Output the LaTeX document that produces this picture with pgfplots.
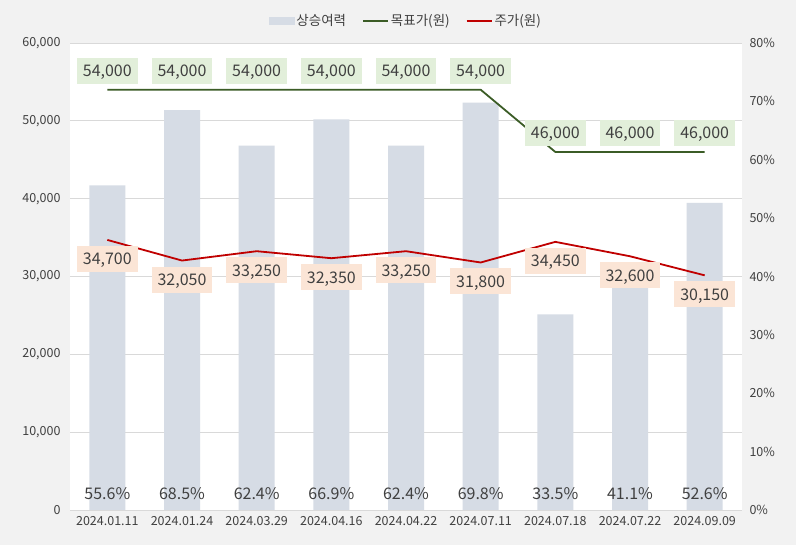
\documentclass[border=0pt]{standalone}
\usepackage{pgfplots}
\pgfplotsset{compat=1.18}
\usepackage{pgfplotstable}
\usepackage{fontspec}
\setmainfont{Noto Sans CJK KR}

\definecolor{bgc}{HTML}{F2F2F2}
\definecolor{barc}{HTML}{D6DCE5}
\definecolor{tgtc}{HTML}{3B5C26}
\definecolor{prc}{HTML}{C00000}
\definecolor{tgtbox}{HTML}{E2EFDA}
\definecolor{prbox}{HTML}{FBE5D6}
\definecolor{txt}{HTML}{404040}
\definecolor{gridc}{HTML}{D9D9D9}

% x upside(%) target price
\pgfplotstableread{
x upside target price
0 55.6 54000 34700
1 68.5 54000 32050
2 62.4 54000 33250
3 66.9 54000 32350
4 62.4 54000 33250
5 69.8 54000 31800
6 33.5 46000 34450
7 41.1 46000 32600
8 52.6 46000 30150
}\data

\tikzset{
  lbl/.style={font=\fontsize{16bp}{18bp}\selectfont, text=txt,
    inner xsep=6bp, inner ysep=7bp, text height=12bp, text depth=0bp, anchor=center},
}
\pgfplotsset{
  common/.style={
    scale only axis, width=672bp, height=467bp,
    xmin=-0.5, xmax=8.5, ymin=0,
    tick label style={font=\fontsize{12.5bp}{14bp}\selectfont, text=txt},
    major tick length=0pt,
    /pgf/number format/assume math mode=true,
    /pgf/number format/1000 sep={,},
  },
}

\begin{document}
\begin{tikzpicture}
\fill[bgc, use as bounding box] (-70bp,-35bp) rectangle (726bp,510bp);

% bars, right axis
\begin{axis}[common,
  ymax=80,
  axis background/.style={fill=white},
  axis y line*=right, axis x line*=bottom,
  y axis line style={draw=none},
  x axis line style={draw=gridc, line width=0.8bp},
  xtick={0,...,8},
  xticklabels={2024.01.11,2024.01.24,2024.03.29,2024.04.16,2024.04.22,2024.07.11,2024.07.18,2024.07.22,2024.09.09},
  xticklabel style={yshift=-3bp},
  ytick={0,10,...,80},
  yticklabel={\pgfmathprintnumber{\tick}\%},
  yticklabel style={xshift=4bp},
  extra y ticks={13.33333,26.66667,40,53.33333,66.66667,80},
  extra y tick labels={},
  extra y tick style={grid=major, major grid style={draw=gridc, line width=0.8bp}},
]
\addplot[ybar, bar width=36bp, fill=barc, draw=none, bar shift=0pt] table[x=x, y=upside] {\data};
\addplot[draw=none, mark=none,
  nodes near coords={\pgfmathprintnumber[fixed,precision=1,fixed zerofill]{\pgfplotspointmeta}\%},
  point meta=explicit,
  every node near coord/.style={lbl, inner sep=0pt}]
  table[x=x, y expr=2.75, meta=upside] {\data};
\end{axis}

% lines, left axis
\begin{axis}[common,
  ymax=60000,
  hide x axis,
  axis y line*=left,
  y axis line style={draw=none},
  ytick={0,10000,...,60000},
  yticklabel style={xshift=-6bp},
  scaled y ticks=false,
  legend style={at={(0.5,1.047)}, anchor=center, draw=none, fill=none,
    font=\fontsize{13.5bp}{15bp}\selectfont, text=txt,
    /tikz/every even column/.append style={column sep=14bp}},
  legend columns=-1,
  legend cell align=left,
]
\addlegendimage{legend image code/.code={\fill[barc] (0bp,-3.5bp) rectangle (25bp,3.5bp);}}
\addlegendentry{상승여력}
\addplot[tgtc, line width=1.8bp, mark=none,
  legend image code/.code={\draw[tgtc, line width=1.8bp] (0bp,0bp) -- (25bp,0bp);},
  nodes near coords,
  every node near coord/.style={lbl, fill=tgtbox, yshift=19bp}]
  table[x=x, y=target] {\data};
\addlegendentry{목표가(원)}
\addplot[prc, line width=1.8bp, mark=none,
  legend image code/.code={\draw[prc, line width=1.8bp] (0bp,0bp) -- (25bp,0bp);},
  nodes near coords,
  every node near coord/.style={lbl, fill=prbox, yshift=-19bp}]
  table[x=x, y=price] {\data};
\addlegendentry{주가(원)}
\end{axis}
\end{tikzpicture}
\end{document}
